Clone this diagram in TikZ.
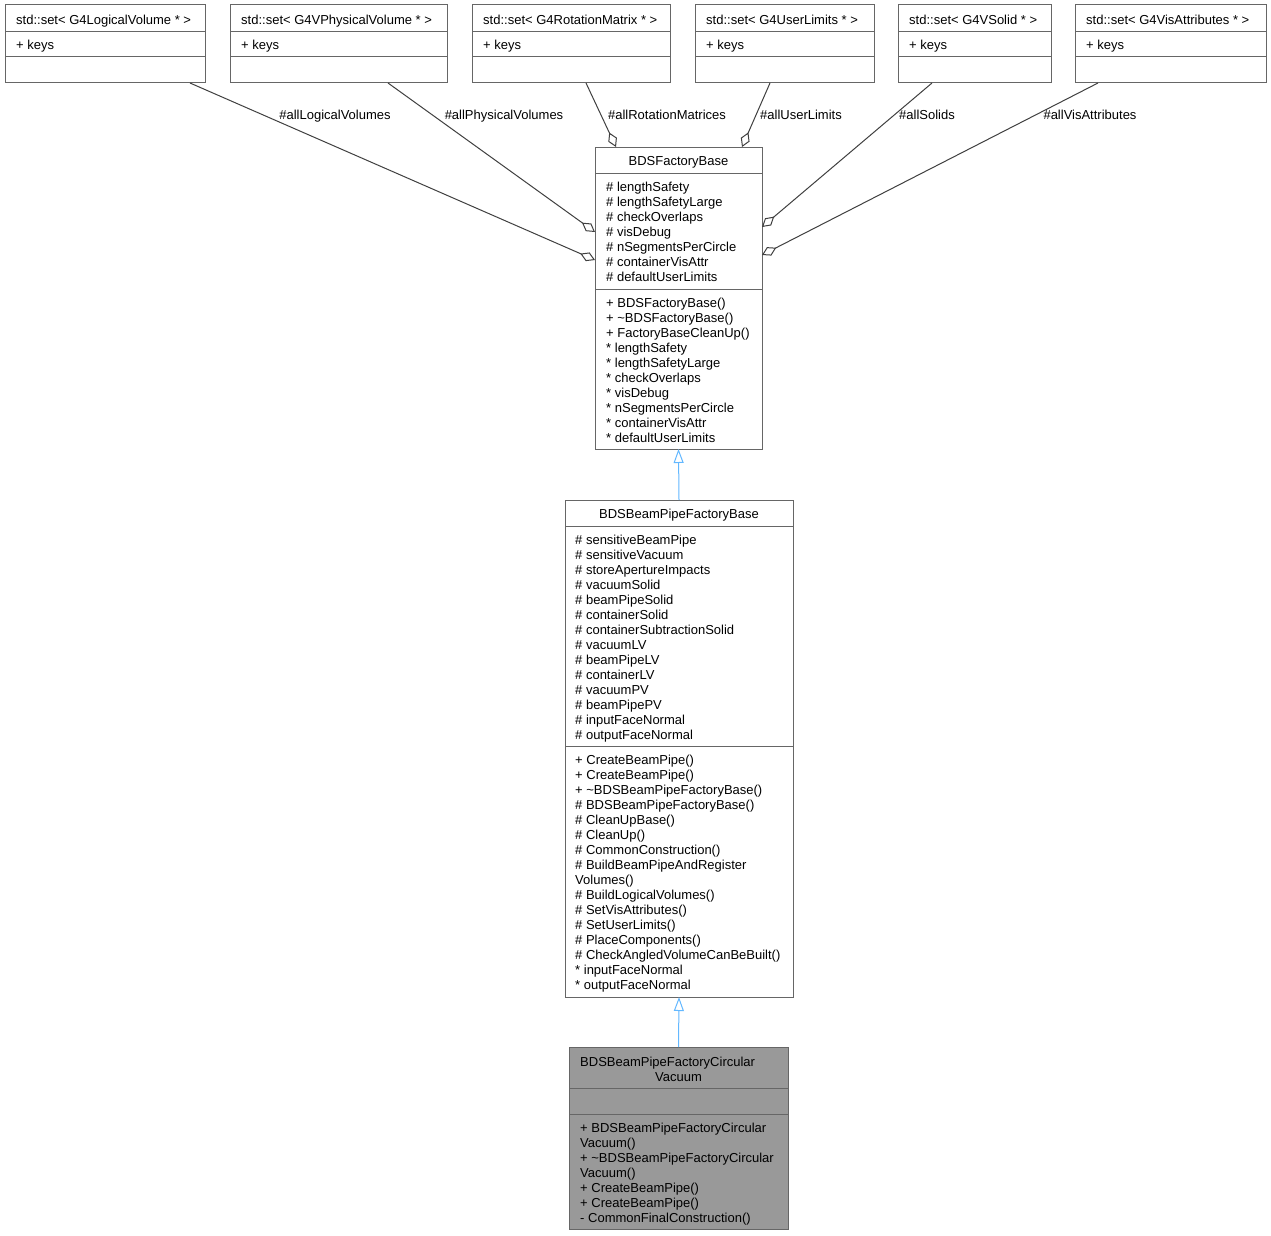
\documentclass[tikz,border=0pt]{standalone}
\usepackage{fontspec}
\setmainfont{Liberation Sans}
\usetikzlibrary{arrows.meta}
\definecolor{boxedge}{HTML}{666666}
\definecolor{edgecol}{HTML}{404040}
\definecolor{inhcol}{HTML}{63B8FF}
\definecolor{curfill}{HTML}{999999}
\begin{document}
\begin{tikzpicture}[x=1pt,y=-1pt,
  classbox/.style={draw=boxedge, line width=1pt, rectangle, inner sep=0pt, outer sep=0pt, anchor=north west},
  divider/.style={draw=boxedge, line width=1pt},
  txt/.style={font=\fontsize{13}{15}\selectfont, inner sep=0pt, anchor=base west},
  ctxt/.style={font=\fontsize{13}{15}\selectfont, inner sep=0pt, anchor=base},
  agg/.style={draw=edgecol, line width=1pt, -{Diamond[open, length=16pt, width=9.5pt, line width=1pt]}},
  inh/.style={draw=inhcol, line width=1pt, -{Triangle[open, length=14pt, width=10pt, line width=1pt]}}
]
\useasboundingbox[fill=white] (0,0) rectangle (1271,1236);

% ---------- top std::set boxes ----------
\node[classbox, minimum width=200pt, minimum height=78pt] (s1) at (5,5) {};
\node[classbox, minimum width=217pt, minimum height=78pt] (s2) at (230,5) {};
\node[classbox, minimum width=198pt, minimum height=78pt] (s3) at (472,5) {};
\node[classbox, minimum width=179pt, minimum height=78pt] (s4) at (695,5) {};
\node[classbox, minimum width=153pt, minimum height=78pt] (s5) at (898,5) {};
\node[classbox, minimum width=191pt, minimum height=78pt] (s6) at (1075,5) {};
\foreach \n in {s1,s2,s3,s4,s5,s6}{
  \draw[divider] (\n.west |- 0,32) -- (\n.east |- 0,32);
  \draw[divider] (\n.west |- 0,57) -- (\n.east |- 0,57);
}
\node[txt] (t1) at (16,24.5) {std::set< G4LogicalVolume * >};
\node[txt] (t2) at (241,24.5) {std::set< G4VPhysicalVolume * >};
\node[txt] (t3) at (483,24.5) {std::set< G4RotationMatrix * >};
\node[txt] (t4) at (706,24.5) {std::set< G4UserLimits * >};
\node[txt] (t5) at (909,24.5) {std::set< G4VSolid * >};
\node[txt] (t6) at (1086,24.5) {std::set< G4VisAttributes * >};
\node[txt] (k1) at (16,50) {+ keys};
\node[txt] (k2) at (241,50) {+ keys};
\node[txt] (k3) at (483,50) {+ keys};
\node[txt] (k4) at (706,50) {+ keys};
\node[txt] (k5) at (909,50) {+ keys};
\node[txt] (k6) at (1086,50) {+ keys};

% ---------- BDSFactoryBase ----------
\node[classbox, minimum width=167pt, minimum height=302pt] (fb) at (595,147) {};
\draw[divider] (fb.west |- 0,173) -- (fb.east |- 0,173);
\draw[divider] (fb.west |- 0,289) -- (fb.east |- 0,289);
\node[ctxt] (fbt) at (678.5,165.5) {BDSFactoryBase};
\foreach \s [count=\i from 0] in {\# lengthSafety,\# lengthSafetyLarge,\# checkOverlaps,\# visDebug,\# nSegmentsPerCircle,\# containerVisAttr,\# defaultUserLimits}{
  \node[txt] (fba\i) at (606,{191.2+15*\i}) {\s};
}
\foreach \s [count=\i from 0] in {+ BDSFactoryBase(),+ \textasciitilde BDSFactoryBase(),+ FactoryBaseCleanUp(),* lengthSafety,* lengthSafetyLarge,* checkOverlaps,* visDebug,* nSegmentsPerCircle,* containerVisAttr,* defaultUserLimits}{
  \node[txt] (fbm\i) at (606,{307.2+15*\i}) {\s};
}

% ---------- BDSBeamPipeFactoryBase ----------
\node[classbox, minimum width=228pt, minimum height=497pt] (bp) at (565,500) {};
\draw[divider] (bp.west |- 0,526) -- (bp.east |- 0,526);
\draw[divider] (bp.west |- 0,746) -- (bp.east |- 0,746);
\node[ctxt] (bpt) at (679,518) {BDSBeamPipeFactoryBase};
\foreach \s [count=\i from 0] in {\# sensitiveBeamPipe,\# sensitiveVacuum,\# storeApertureImpacts,\# vacuumSolid,\# beamPipeSolid,\# containerSolid,\# containerSubtractionSolid,\# vacuumLV,\# beamPipeLV,\# containerLV,\# vacuumPV,\# beamPipePV,\# inputFaceNormal,\# outputFaceNormal}{
  \node[txt] (bpa\i) at (575,{544.2+15*\i}) {\s};
}
\foreach \s [count=\i from 0] in {+ CreateBeamPipe(),+ CreateBeamPipe(),+ \textasciitilde BDSBeamPipeFactoryBase(),\# BDSBeamPipeFactoryBase(),\# CleanUpBase(),\# CleanUp(),\# CommonConstruction(),\# BuildBeamPipeAndRegister,Volumes(),\# BuildLogicalVolumes(),\# SetVisAttributes(),\# SetUserLimits(),\# PlaceComponents(),\# CheckAngledVolumeCanBeBuilt(),* inputFaceNormal,* outputFaceNormal}{
  \node[txt] (bpm\i) at (575,{764.2+15*\i}) {\s};
}

% ---------- BDSBeamPipeFactoryCircularVacuum ----------
\node[classbox, fill=curfill, minimum width=219pt, minimum height=182pt] (cv) at (569,1047) {};
\draw[divider] (cv.west |- 0,1088) -- (cv.east |- 0,1088);
\draw[divider] (cv.west |- 0,1114) -- (cv.east |- 0,1114);
\node[txt] (cvt1) at (580,1066.2) {BDSBeamPipeFactoryCircular};
\node[ctxt] (cvt2) at (678.5,1081.2) {Vacuum};
\foreach \s [count=\i from 0] in {+ BDSBeamPipeFactoryCircular,Vacuum(),+ \textasciitilde BDSBeamPipeFactoryCircular,Vacuum(),+ CreateBeamPipe(),+ CreateBeamPipe(),- CommonFinalConstruction()}{
  \node[txt] (cvm\i) at (580,{1132.2+15*\i}) {\s};
}

% ---------- aggregation connectors ----------
\draw[agg] (s1.south -| 190,0) -- (fb.west |- 0,260);
\draw[agg] (s2.south -| 388,0) -- (fb.west |- 0,232);
\draw[agg] (s3.south -| 586,0) -- (fb.north -| 616,0);
\draw[agg] (s4.south -| 770,0) -- (fb.north -| 742,0);
\draw[agg] (s5.south -| 932,0) -- (fb.east |- 0,227);
\draw[agg] (s6.south -| 1098,0) -- (fb.east |- 0,255);
\node[ctxt] (l1) at (335,120) {\#allLogicalVolumes};
\node[ctxt] (l2) at (504,120) {\#allPhysicalVolumes};
\node[ctxt] (l3) at (667,120) {\#allRotationMatrices};
\node[ctxt] (l4) at (801,120) {\#allUserLimits};
\node[ctxt] (l5) at (927,120) {\#allSolids};
\node[ctxt] (l6) at (1090,120) {\#allVisAttributes};

% ---------- inheritance connectors ----------
\draw[inh] (bp.north) -- (fb.south);
\draw[inh] (cv.north) -- (bp.south);
\end{tikzpicture}
\end{document}
